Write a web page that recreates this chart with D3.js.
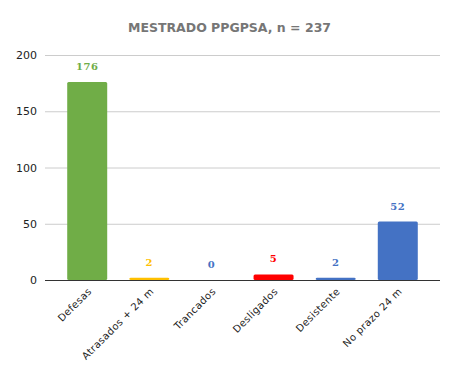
<!DOCTYPE html>
<html><head><meta charset="utf-8">
<script src="https://cdn.jsdelivr.net/npm/d3@7"></script>
<style>body{margin:0;background:#fff;}svg{display:block;}</style>
</head><body>
<script>
const categories = ["Defesas", "Atrasados + 24 m", "Trancados", "Desligados", "Desistente", "No prazo 24 m"];
const values = [176, 2, 0, 5, 2, 52];
const colors = ["#70AD47", "#FFC000", "#4472C4", "#FF0000", "#4472C4", "#4472C4"];
const yTicks = [0, 50, 100, 150, 200];
const title = "MESTRADO PPGPSA, n = 237";

const W = 459, H = 380;
const svg = d3.select("body").append("svg").attr("width", W).attr("height", H);
const font = "DejaVu Sans, Verdana, sans-serif";

const x = d3.scaleBand().domain(categories).range([56, 429]).paddingInner(0.355).paddingOuter(0.18);
const y = d3.scaleLinear().domain([0, 200]).range([280, 55]);

svg.append("text").attr("x", 229.5).attr("y", 32).attr("text-anchor", "middle")
  .attr("font-family", font).attr("font-size", 12.5).attr("font-weight", "bold").attr("fill", "#767676").text(title);

const yAxis = svg.append("g").attr("transform", "translate(45,0)")
  .call(d3.axisLeft(y).tickValues(yTicks).tickSize(-395).tickPadding(8));
yAxis.select(".domain").remove();
yAxis.selectAll(".tick line").attr("stroke", "#cccccc");
yAxis.selectAll(".tick text").attr("font-family", font).attr("font-size", 11).attr("fill", "#222");

const bw = 40;
svg.selectAll("rect.bar").data(values).join("rect").attr("class", "bar")
  .attr("x", (d, i) => x(categories[i]) + x.bandwidth() / 2 - bw / 2)
  .attr("width", bw)
  .attr("y", d => y(d))
  .attr("height", d => y(0) - y(d))
  .attr("rx", 1.5)
  .attr("fill", (d, i) => colors[i]);

svg.selectAll("text.val").data(values).join("text").attr("class", "val")
  .attr("x", (d, i) => x(categories[i]) + x.bandwidth() / 2)
  .attr("y", d => y(d) - 12)
  .attr("text-anchor", "middle")
  .attr("font-family", "DejaVu Serif, serif").attr("font-size", 10).attr("font-weight", "bold")
  .attr("letter-spacing", 0.5)
  .attr("fill", (d, i) => colors[i]).text(d => d);

const xAxis = svg.append("g").attr("transform", "translate(0,280)")
  .call(d3.axisBottom(x).tickSize(0).tickPadding(0));
xAxis.select(".domain").remove();
svg.append("line").attr("x1", 45).attr("x2", 440).attr("y1", 280.5).attr("y2", 280.5).attr("stroke", "#333").attr("stroke-width", 1);
xAxis.selectAll(".tick text")
  .attr("font-family", font).attr("font-size", 10).attr("fill", "#222")
  .attr("letter-spacing", 0.4)
  .attr("text-anchor", "end")
  .attr("dy", null)
  .attr("transform", "translate(5,12) rotate(-45)");
</script>
</body></html>
